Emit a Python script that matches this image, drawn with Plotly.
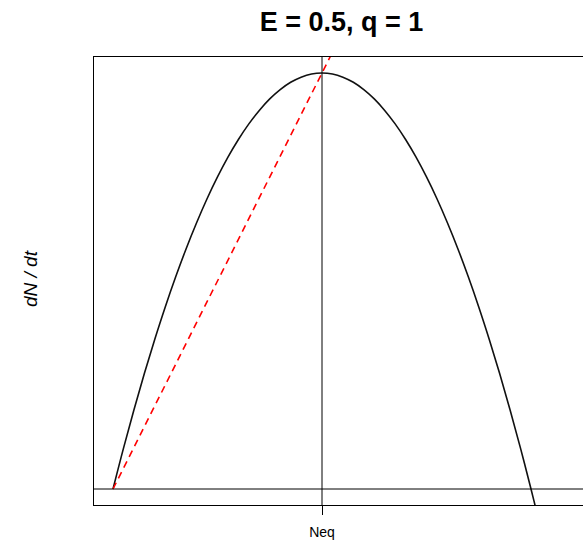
import plotly.graph_objects as go

# Parameters shown in the title
E = 0.5
q = 1
Neq = 50  # equilibrium population (tick labelled "Neq")

# Growth curve dN/dt (population N, growth rate)
N_vals = [0, 2.5, 5, 7.5, 10, 12.5, 15, 17.5, 20, 22.5, 25, 27.5, 30, 32.5, 35, 37.5, 40, 42.5, 45, 47.5,
          50, 52.5, 55, 57.5, 60, 62.5, 65, 67.5, 70, 72.5, 75, 77.5, 80, 82.5, 85, 87.5, 90, 92.5, 95, 97.5,
          100, 101, 102]
dNdt_vals = [0, 2.44, 4.75, 6.94, 9, 10.94, 12.75, 14.44, 16, 17.44, 18.75, 19.94, 21, 21.94, 22.75, 23.44,
             24, 24.44, 24.75, 24.94, 25, 24.94, 24.75, 24.44, 24, 23.44, 22.75, 21.94, 21, 19.94, 18.75, 17.44,
             16, 14.44, 12.75, 10.94, 9, 6.94, 4.75, 2.44, 0, -1.01, -2.04]

# Harvest line E*q*N (red dashed)
harvest_N = [0, 60]
harvest_Y = [0, 30]

fig = go.Figure()
fig.add_trace(go.Scatter(x=N_vals, y=dNdt_vals, mode="lines",
                         line=dict(color="#111111", width=1.6, shape="spline", smoothing=1),
                         showlegend=False, hoverinfo="skip"))
fig.add_trace(go.Scatter(x=harvest_N, y=harvest_Y, mode="lines",
                         line=dict(color="#ff0000", width=1.6, dash="7px,5px"),
                         showlegend=False, hoverinfo="skip"))

fig.add_hline(y=0, line=dict(color="black", width=1))
fig.add_vline(x=Neq, line=dict(color="black", width=1))

L, R, T, B = 94, 0, 57, 39
W, H = 583, 544
pw = W - L - R

fig.update_layout(
    width=W, height=H,
    margin=dict(l=L, r=R, t=T, b=B),
    paper_bgcolor="white", plot_bgcolor="white",
    font=dict(family="Liberation Sans, Arial, sans-serif", color="black"),
    title=dict(text="<b>E = 0.5, q = 1</b>", x=341.5 / W, xanchor="center", xref="container",
               y=1 - 22 / H, yanchor="middle", yref="container", font=dict(size=27, color="black")),
    xaxis=dict(range=[-4.545, 112.44], showgrid=False, zeroline=False, showline=True, mirror=True,
               linecolor="black", linewidth=1, tickvals=[Neq], ticktext=["Neq"], ticks="outside",
               ticklen=9, tickcolor="black", tickwidth=1, tickfont=dict(size=14),
               ticklabelstandoff=5, fixedrange=True),
    yaxis=dict(range=[-0.9615, 25.96], showgrid=False, zeroline=False, showline=True, mirror=False,
               linecolor="black", linewidth=1, showticklabels=False, ticks="", fixedrange=True),
    annotations=[dict(text="<i>dN / dt</i>", textangle=-90, xref="paper", yref="paper",
                      x=-(L - 30) / pw, y=(H - B - 279) / (H - T - B), xanchor="center", yanchor="middle",
                      showarrow=False, font=dict(size=19, color="black"))],
)

fig.write_html("out.html")
